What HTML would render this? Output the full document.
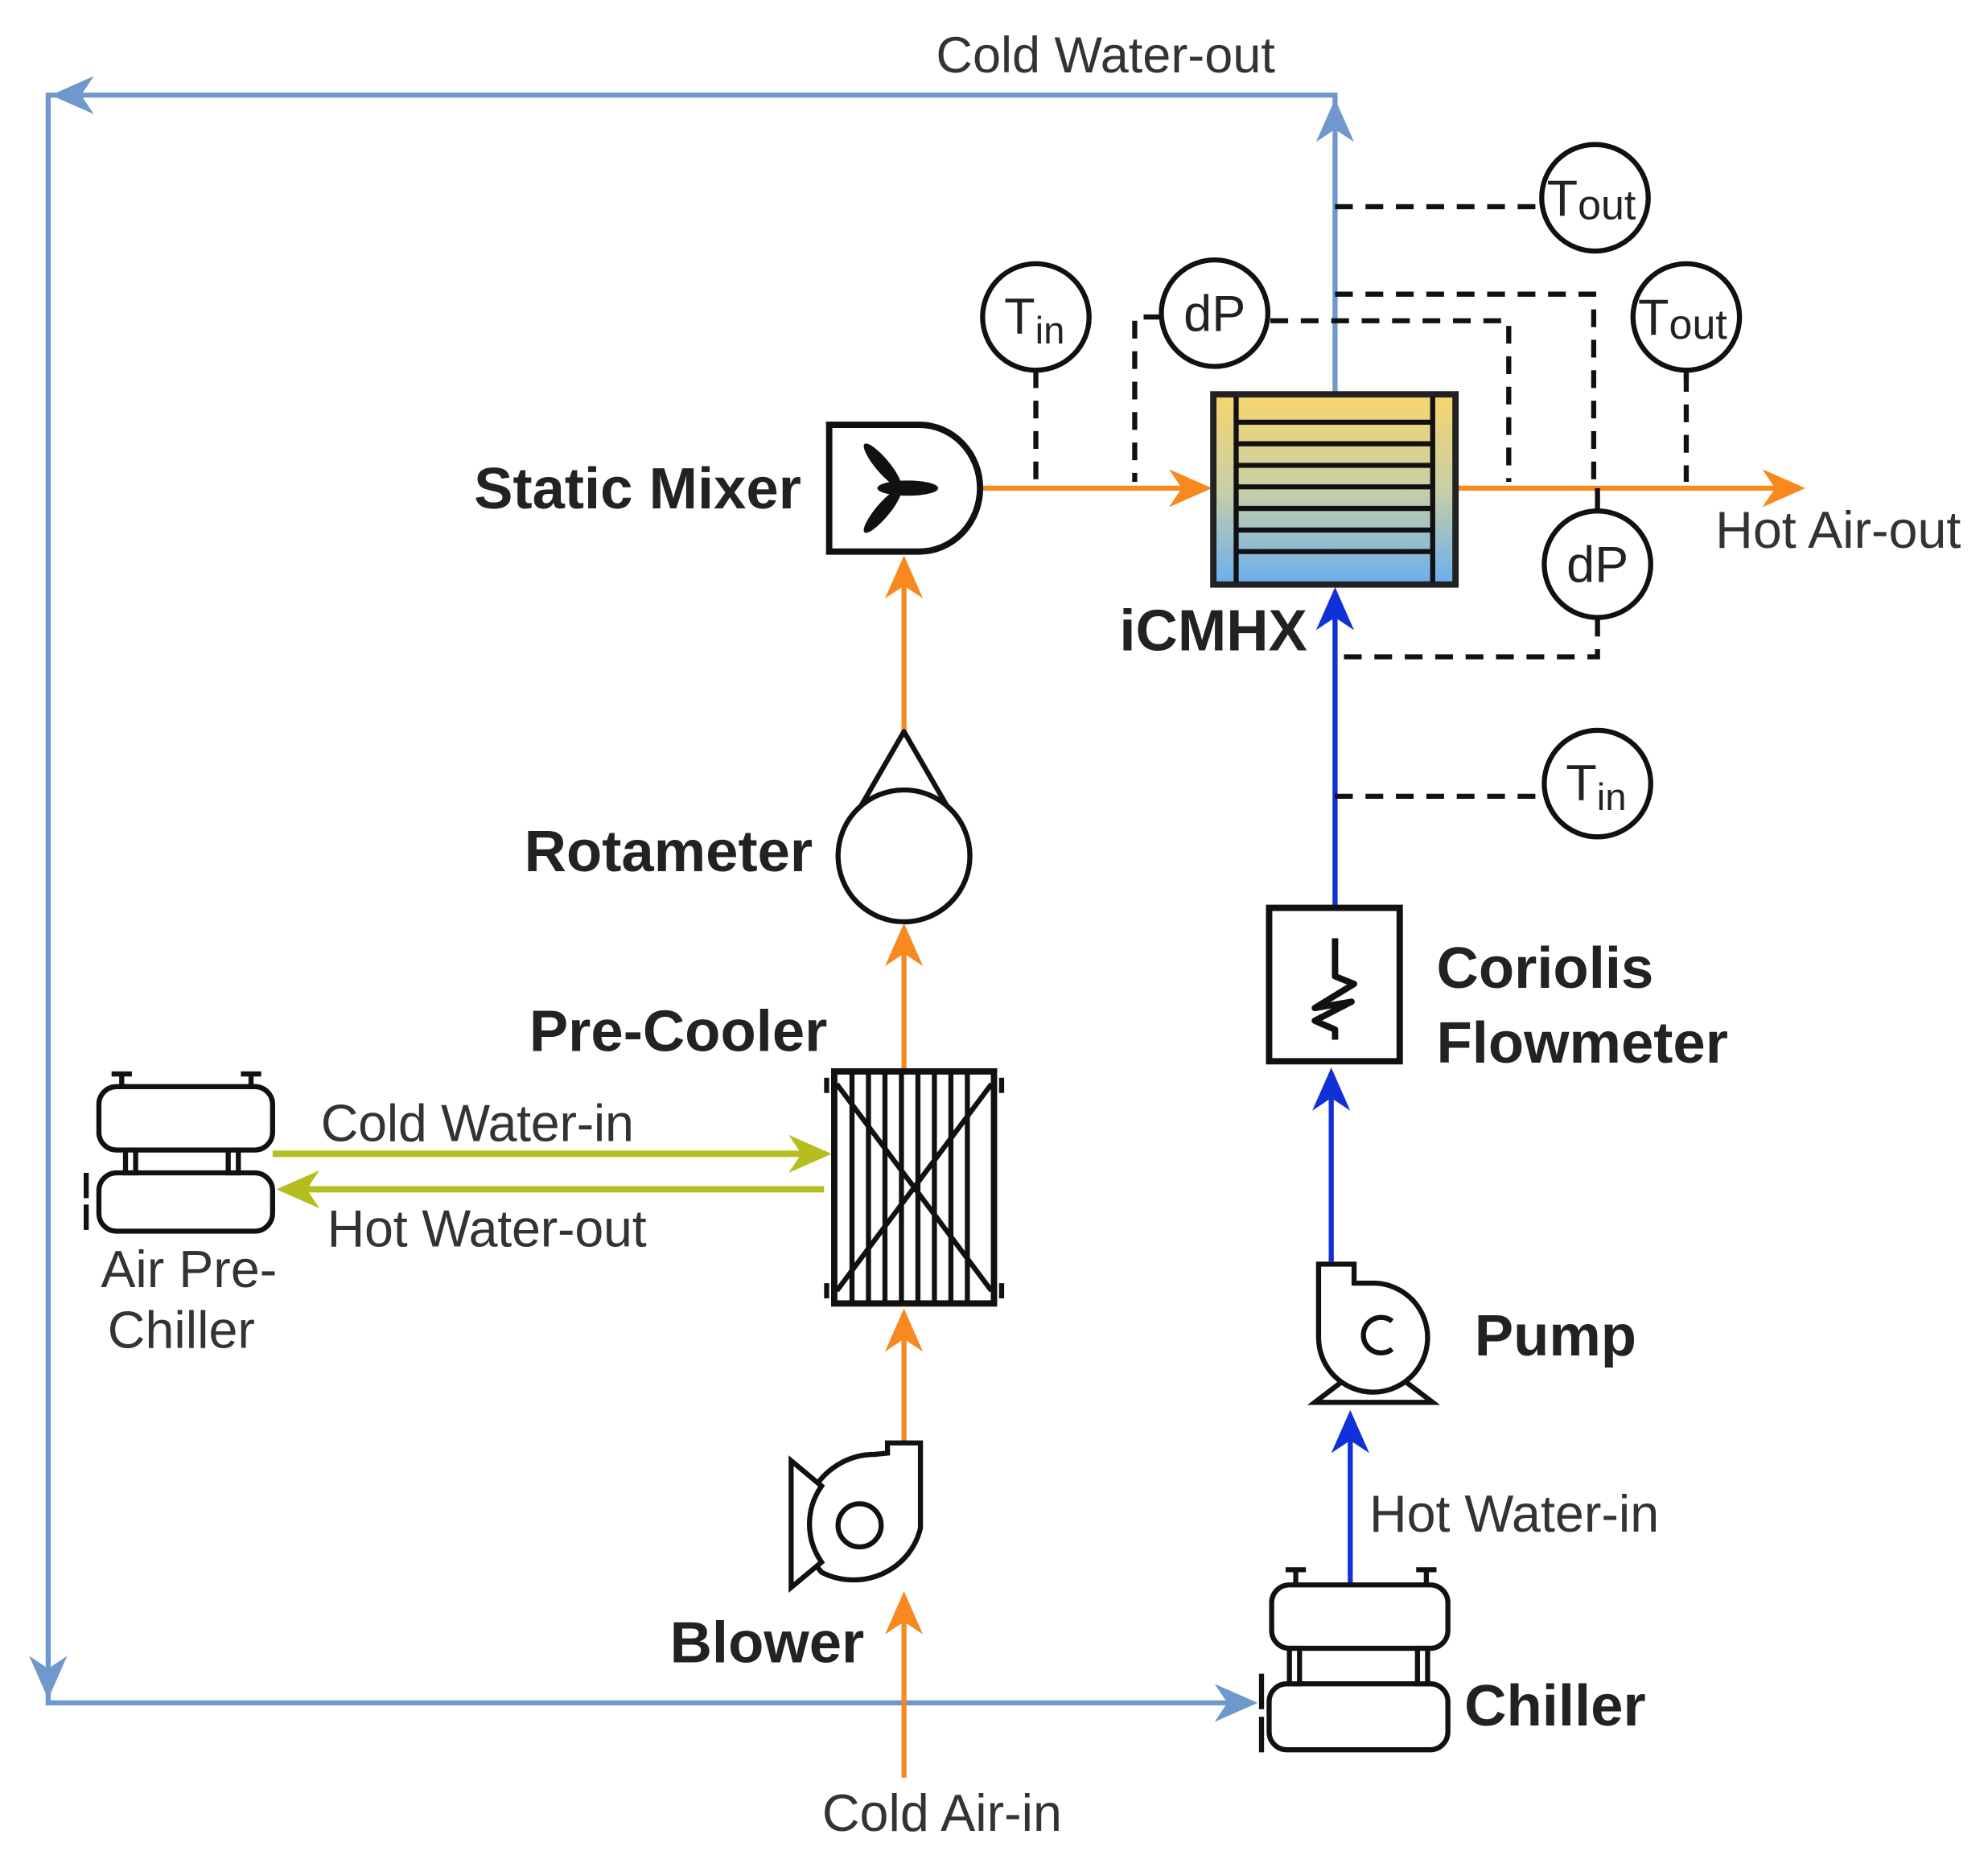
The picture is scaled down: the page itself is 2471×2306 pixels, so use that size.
<!DOCTYPE html>
<html><head><meta charset="utf-8"><style>html,body{margin:0;padding:0;background:#fff}svg{display:block}</style></head>
<body>
<svg width="2471" height="2306" viewBox="0 0 1568 1463" preserveAspectRatio="none" xmlns="http://www.w3.org/2000/svg" font-family="Liberation Sans, Arial, sans-serif">
<defs>
<linearGradient id="g" x1="0" y1="0" x2="0" y2="1">
<stop offset="0" stop-color="#f7d56e"/><stop offset="0.5" stop-color="#c8cfa6"/><stop offset="1" stop-color="#6aaef0"/>
</linearGradient>
</defs>
<rect width="1568" height="1463" fill="#fff"/>
<g stroke="#6f98cc" stroke-width="4" fill="none">
<polyline points="1053,310 1053,75 38,75 38,1343 985,1343"/>
</g>
<g fill="#6f98cc">
<polygon points="1053,78 1038,112 1053,102 1068,112"/>
<polygon points="40,75 74,60 64,75 74,90"/>
<polygon points="38,1340 23,1306 38,1316 53,1306"/>
<polygon points="992,1343 958,1328 968,1343 958,1358"/>
</g>
<text x="872" y="57" font-size="40" fill="#333" text-anchor="middle">Cold Water-out</text>
<g stroke="#f7891f" stroke-width="4" fill="none">
<line x1="713" y1="1402" x2="713" y2="1260"/>
<line x1="713" y1="1138" x2="713" y2="1040"/>
<line x1="713" y1="845" x2="713" y2="735"/>
<line x1="713" y1="577" x2="713" y2="445"/>
<line x1="772" y1="385" x2="950" y2="385"/>
<line x1="1148" y1="385" x2="1415" y2="385"/>
</g>
<g fill="#f7891f">
<polygon points="713,1255 698,1289 713,1279 728,1289"/>
<polygon points="713,1032 698,1066 713,1056 728,1066"/>
<polygon points="713,728 698,762 713,752 728,762"/>
<polygon points="713,438 698,472 713,462 728,472"/>
<polygon points="956,385 922,370 932,385 922,400"/>
<polygon points="1424,385 1390,370 1400,385 1390,400"/>
</g>
<g stroke="#1030d8" stroke-width="4" fill="none">
<line x1="1065" y1="1252" x2="1065" y2="1120"/>
<line x1="1050" y1="995" x2="1050" y2="850"/>
<line x1="1053" y1="715" x2="1053" y2="470"/>
</g>
<g fill="#1030d8">
<polygon points="1065,1112 1050,1146 1065,1136 1080,1146"/>
<polygon points="1050,842 1035,876 1050,866 1065,876"/>
<polygon points="1053,463 1038,497 1053,487 1068,497"/>
</g>
<g stroke="#b6bd1e" stroke-width="5" fill="none">
<line x1="215" y1="910" x2="640" y2="910"/>
<line x1="650" y1="938" x2="235" y2="938"/>
</g>
<g fill="#b6bd1e">
<polygon points="656,910 622,895 632,910 622,925"/>
<polygon points="218,938 252,923 242,938 252,953"/>
</g>
<text x="253" y="900" font-size="41" fill="#333" textLength="247">Cold Water-in</text>
<text x="258" y="983" font-size="41" fill="#333" textLength="252">Hot Water-out</text>
<g stroke="#111" stroke-width="4" fill="none" stroke-dasharray="14,10">
<line x1="817" y1="292" x2="817" y2="380"/>
<polyline points="916,250 895,250 895,380"/>
<polyline points="1002,253 1190,253 1190,380"/>
<line x1="1053" y1="163" x2="1215" y2="163"/>
<polyline points="1053,232 1257,232 1257,380"/>
<line x1="1330" y1="295" x2="1330" y2="380"/>
<polyline points="1260,488 1260,518 1055,518"/>
<line x1="1053" y1="628" x2="1218" y2="628"/>
</g>
<line x1="1260" y1="385" x2="1260" y2="404" stroke="#111" stroke-width="4"/>
<line x1="1330" y1="290" x2="1330" y2="300" stroke="#111" stroke-width="4"/>
<g stroke="#111" stroke-width="4" fill="#fff">
<circle cx="817" cy="250" r="42"/>
<circle cx="958" cy="247" r="42"/>
<circle cx="1258" cy="156" r="42"/>
<circle cx="1330" cy="250" r="42"/>
<circle cx="1260" cy="445" r="42"/>
<circle cx="1260" cy="618" r="42"/>
</g>
<g font-size="40" fill="#222">
<text x="792" y="263">T<tspan font-size="30" dy="8">in</tspan></text>
<text x="958" y="261" text-anchor="middle">dP</text>
<text x="1220" y="170">T<tspan font-size="33" dy="3">out</tspan></text>
<text x="1292" y="264">T<tspan font-size="33" dy="3">out</tspan></text>
<text x="1260" y="459" text-anchor="middle">dP</text>
<text x="1235" y="631">T<tspan font-size="30" dy="8">in</tspan></text>
</g>
<rect x="957" y="311" width="191" height="150" fill="url(#g)" stroke="#222" stroke-width="5"/>
<g stroke="#111" stroke-width="4">
<line x1="975" y1="313" x2="975" y2="459"/>
<line x1="1130" y1="313" x2="1130" y2="459"/>
<line x1="975" y1="333" x2="1130" y2="333"/>
<line x1="975" y1="350" x2="1130" y2="350"/>
<line x1="975" y1="367" x2="1130" y2="367"/>
<line x1="975" y1="384" x2="1130" y2="384"/>
<line x1="975" y1="401" x2="1130" y2="401"/>
<line x1="975" y1="418" x2="1130" y2="418"/>
<line x1="975" y1="435" x2="1130" y2="435"/>
</g>
<path d="M654,335 H725 A48,50 0 0 1 725,435 H654 Z" fill="#fff" stroke="#111" stroke-width="5"/>
<g fill="#111">
<ellipse cx="716" cy="385" rx="24" ry="6"/>
<ellipse cx="0" cy="0" rx="22" ry="5.5" transform="translate(696,367) rotate(50)"/>
<ellipse cx="0" cy="0" rx="22" ry="5.5" transform="translate(696,403) rotate(-50)"/>
</g>
<polygon points="713,577 665,660 761,660" fill="#fff" stroke="#111" stroke-width="4" stroke-linejoin="round"/>
<circle cx="713" cy="675" r="52" fill="#fff" stroke="#111" stroke-width="4"/>
<rect x="658" y="845" width="126" height="183" fill="#fff" stroke="#111" stroke-width="5"/>
<g stroke="#111" stroke-width="4">
<line x1="672" y1="845" x2="672" y2="1028"/><line x1="685" y1="845" x2="685" y2="1028"/>
<line x1="698" y1="845" x2="698" y2="1028"/><line x1="711" y1="845" x2="711" y2="1028"/>
<line x1="724" y1="845" x2="724" y2="1028"/><line x1="737" y1="845" x2="737" y2="1028"/>
<line x1="750" y1="845" x2="750" y2="1028"/><line x1="763" y1="845" x2="763" y2="1028"/>
<line x1="660" y1="855" x2="782" y2="1018"/><line x1="782" y1="855" x2="660" y2="1018"/>
<line x1="652" y1="850" x2="652" y2="862"/><line x1="790" y1="850" x2="790" y2="862"/>
<line x1="652" y1="1012" x2="652" y2="1024"/><line x1="790" y1="1012" x2="790" y2="1024"/>
</g>
<path d="M700,1138 H726 V1205 A54,52 0 0 1 648,1240 A56,56 0 0 1 690,1147 L700,1146 Z" fill="#fff" stroke="#111" stroke-width="4"/>
<path d="M624,1152 V1252 L648,1232 A52,52 0 0 1 648,1172 Z" fill="#fff" stroke="#111" stroke-width="4"/>
<circle cx="678" cy="1203" r="17" fill="#fff" stroke="#111" stroke-width="4"/>
<rect x="1001" y="716" width="103" height="121" fill="#fff" stroke="#111" stroke-width="5"/>
<path d="M1053,740 V770 L1068,776 L1037,795 L1066,790 L1037,805 L1053,812 V820" fill="none" stroke="#111" stroke-width="5" stroke-linejoin="round"/>
<path d="M1040,997 H1068 V1012 H1085 A43,43 0 1 1 1040,1055 Z" fill="#fff" stroke="#111" stroke-width="4"/>
<path d="M1098,1042 A14,14 0 1 0 1098,1064" fill="none" stroke="#111" stroke-width="4"/>
<path d="M1058,1090 L1037,1106 H1130 L1109,1090" fill="none" stroke="#111" stroke-width="4"/>
<g stroke="#111" stroke-width="4" fill="#fff">
<rect x="1003" y="1250" width="139" height="50" rx="14"/>
<rect x="1001" y="1328" width="141" height="52" rx="14"/>
<rect x="1017" y="1300" width="8" height="28"/><rect x="1118" y="1300" width="8" height="28"/>
<line x1="1022" y1="1250" x2="1022" y2="1238"/><line x1="1014" y1="1238" x2="1030" y2="1238"/>
<line x1="1125" y1="1250" x2="1125" y2="1238"/><line x1="1117" y1="1238" x2="1133" y2="1238"/>
<line x1="995" y1="1320" x2="995" y2="1348"/><line x1="995" y1="1354" x2="995" y2="1382"/>
</g>
<g stroke="#111" stroke-width="4" fill="#fff">
<rect x="78" y="857" width="137" height="50" rx="14"/>
<rect x="78" y="925" width="137" height="46" rx="14"/>
<rect x="99" y="907" width="8" height="18"/><rect x="180" y="907" width="8" height="18"/>
<line x1="96" y1="857" x2="96" y2="847"/><line x1="88" y1="847" x2="104" y2="847"/>
<line x1="198" y1="857" x2="198" y2="847"/><line x1="190" y1="847" x2="206" y2="847"/>
<line x1="68" y1="925" x2="68" y2="945"/><line x1="68" y1="950" x2="68" y2="970"/>
</g>
<g font-size="46" font-weight="bold" fill="#222">
<text x="632" y="401" text-anchor="end">Static Mixer</text>
<text x="641" y="687" text-anchor="end">Rotameter</text>
<text x="535" y="829" text-anchor="middle">Pre-Cooler</text>
<text x="957" y="513" text-anchor="middle">iCMHX</text>
<text x="1133" y="779">Coriolis</text>
<text x="1133" y="838">Flowmeter</text>
<text x="1163" y="1069">Pump</text>
<text x="605" y="1311" text-anchor="middle">Blower</text>
<text x="1155" y="1361">Chiller</text>
</g>
<g font-size="41" fill="#333">
<text x="1353" y="432">Hot Air-out</text>
<text x="1080" y="1208">Hot Water-in</text>
<text x="743" y="1444" text-anchor="middle">Cold Air-in</text>
<text x="149" y="1015" text-anchor="middle">Air Pre-</text>
<text x="143" y="1063" text-anchor="middle">Chiller</text>
</g>
</svg>
</body></html>
